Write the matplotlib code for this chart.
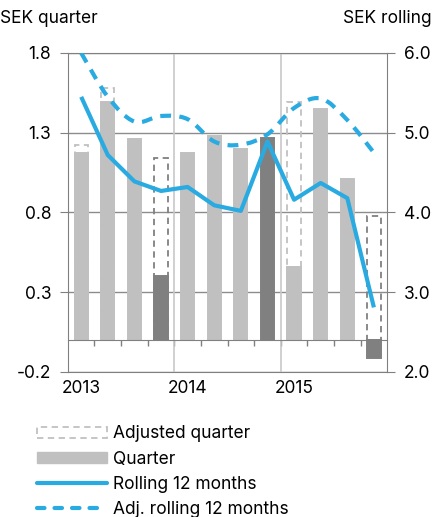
import numpy as np
import matplotlib
matplotlib.use("Agg")
import matplotlib.pyplot as plt
from matplotlib.path import Path
from matplotlib.patches import PathPatch, Patch
from matplotlib.lines import Line2D

plt.rcParams['font.family'] = ['Inter', 'DejaVu Sans']

# data (2013 Q1 .. 2015 Q4)
years = ['2013', '2014', '2015']
quarter = [1.17, 1.49, 1.26, 0.40, 1.17, 1.28, 1.20, 1.27, 0.46, 1.45, 1.01, -0.11]
adjusted = [1.22, 1.58, np.nan, 1.14, np.nan, np.nan, np.nan, np.nan, 1.49, np.nan, np.nan, 0.78]
highlight = [False, False, False, True, False, False, False, True, False, False, False, True]
rolling = [5.45, 4.72, 4.39, 4.27, 4.32, 4.09, 4.02, 4.89, 4.16, 4.37, 4.18, 2.81]
adj_rolling = [6.0, 5.45, 5.14, 5.21, 5.17, 4.89, 4.85, 4.98, 5.31, 5.43, 5.16, 4.75]

LIGHT = '#c0c0c0'
DARK = '#808080'
BLUE = '#29abe2'
GRID = '#8c8c8c'
FS = 12.5


def smooth_path(x, y):
    """Catmull-Rom style bezier through the points (like a smoothed line)."""
    p = np.column_stack([x, y])
    n = len(p)
    verts = [p[0]]
    codes = [Path.MOVETO]
    for i in range(n - 1):
        p0 = p[max(i - 1, 0)]
        p1 = p[i]
        p2 = p[i + 1]
        p3 = p[min(i + 2, n - 1)]
        verts += [p1 + (p2 - p0) / 6, p2 - (p3 - p1) / 6, p2]
        codes += [Path.CURVE4] * 3
    return Path(verts, codes)


x = np.arange(len(quarter))
bar_colors = [DARK if h else LIGHT for h in highlight]

fig = plt.figure(figsize=(4.38, 5.17), dpi=100)
ax = fig.add_axes([0.155, 0.2805, 0.729, 0.617])
ax2 = ax.twinx()

# adjusted quarter: dashed outline boxes behind the quarter bars
ax.bar(x, adjusted, width=0.5, fill=False, edgecolor=bar_colors,
       linestyle=(0, (3.5, 2.5)), linewidth=1.3, zorder=2)
ax.bar(x, quarter, width=0.5, color=bar_colors, edgecolor=bar_colors,
       linewidth=1.4, zorder=3)

ax.set_xlim(-0.5, len(quarter) - 0.5)
ax.set_ylim(-0.2, 1.8)
ax.set_yticks([-0.2, 0.3, 0.8, 1.3, 1.8])
ax.set_yticklabels(['-0.2', '0.3', '0.8', '1.3', '1.8'])
ax.yaxis.grid(True, color=GRID, linewidth=1.0, zorder=0)
ax.set_axisbelow(True)
for b in x[4::4]:
    ax.axvline(b - 0.5, color='#c8c8c8', linewidth=1.2, zorder=1)

# zero line with quarter separators, year labels on the frame bottom
ax.spines['bottom'].set_position(('data', 0))
ax.spines['bottom'].set_color(DARK)
ax.spines['bottom'].set_zorder(4)
ax.set_xticks([])
ax.set_xticks(x[:-1] + 0.5, minor=True)
ax.tick_params(axis='x', which='minor', direction='out', length=4, color=DARK, width=1)
secx = ax.secondary_xaxis('bottom')
secx.set_xticks(x[::4])
secx.set_xticklabels(years, fontsize=FS)
secx.tick_params(length=0, pad=6)
secx.spines['bottom'].set_color(DARK)

for s in ['left', 'top']:
    ax.spines[s].set_color(DARK)
ax.spines['right'].set_visible(False)
ax.tick_params(axis='y', length=6, color=DARK, labelsize=FS, pad=6)

# rolling 12 months on the right axis
ax2.set_ylim(2.0, 6.0)
ax2.set_yticks([2, 3, 4, 5, 6])
ax2.set_yticklabels(['%.1f' % v for v in [2, 3, 4, 5, 6]])
ax2.tick_params(axis='y', length=6, color=DARK, labelsize=FS, pad=6)
for s in ['left', 'top', 'bottom']:
    ax2.spines[s].set_visible(False)
ax2.spines['right'].set_color(DARK)
ax2.plot(x, rolling, color=BLUE, linewidth=3, solid_capstyle='butt', zorder=5)
ax2.add_patch(PathPatch(smooth_path(x, adj_rolling), fill=False, edgecolor=BLUE,
                        linewidth=3, linestyle=(0, (2.6, 2.0)), capstyle='butt', zorder=5))

fig.text(0.0, 0.965, 'SEK quarter', fontsize=FS, ha='left', va='center')
fig.text(0.985, 0.965, 'SEK rolling', fontsize=FS, ha='right', va='center')

handles = [
    Patch(facecolor='white', edgecolor=LIGHT, linestyle=(0, (3.5, 2.5)), linewidth=1.3),
    Patch(facecolor=LIGHT, edgecolor=LIGHT),
    Line2D([], [], color=BLUE, linewidth=3, solid_capstyle='round'),
    Line2D([], [], color=BLUE, linewidth=3, linestyle=(0, (1.8, 2.4)),
           dash_capstyle='round'),
]
labels = ['Adjusted quarter', 'Quarter', 'Rolling 12 months', 'Adj. rolling 12 months']
fig.legend(handles, labels, loc='upper left', bbox_to_anchor=(0.085, 0.177),
           frameon=False, fontsize=FS, handlelength=4.0, handleheight=0.55,
           handletextpad=0.35, labelspacing=0.47, borderpad=0, borderaxespad=0)

fig.savefig('out.png', dpi=100)
